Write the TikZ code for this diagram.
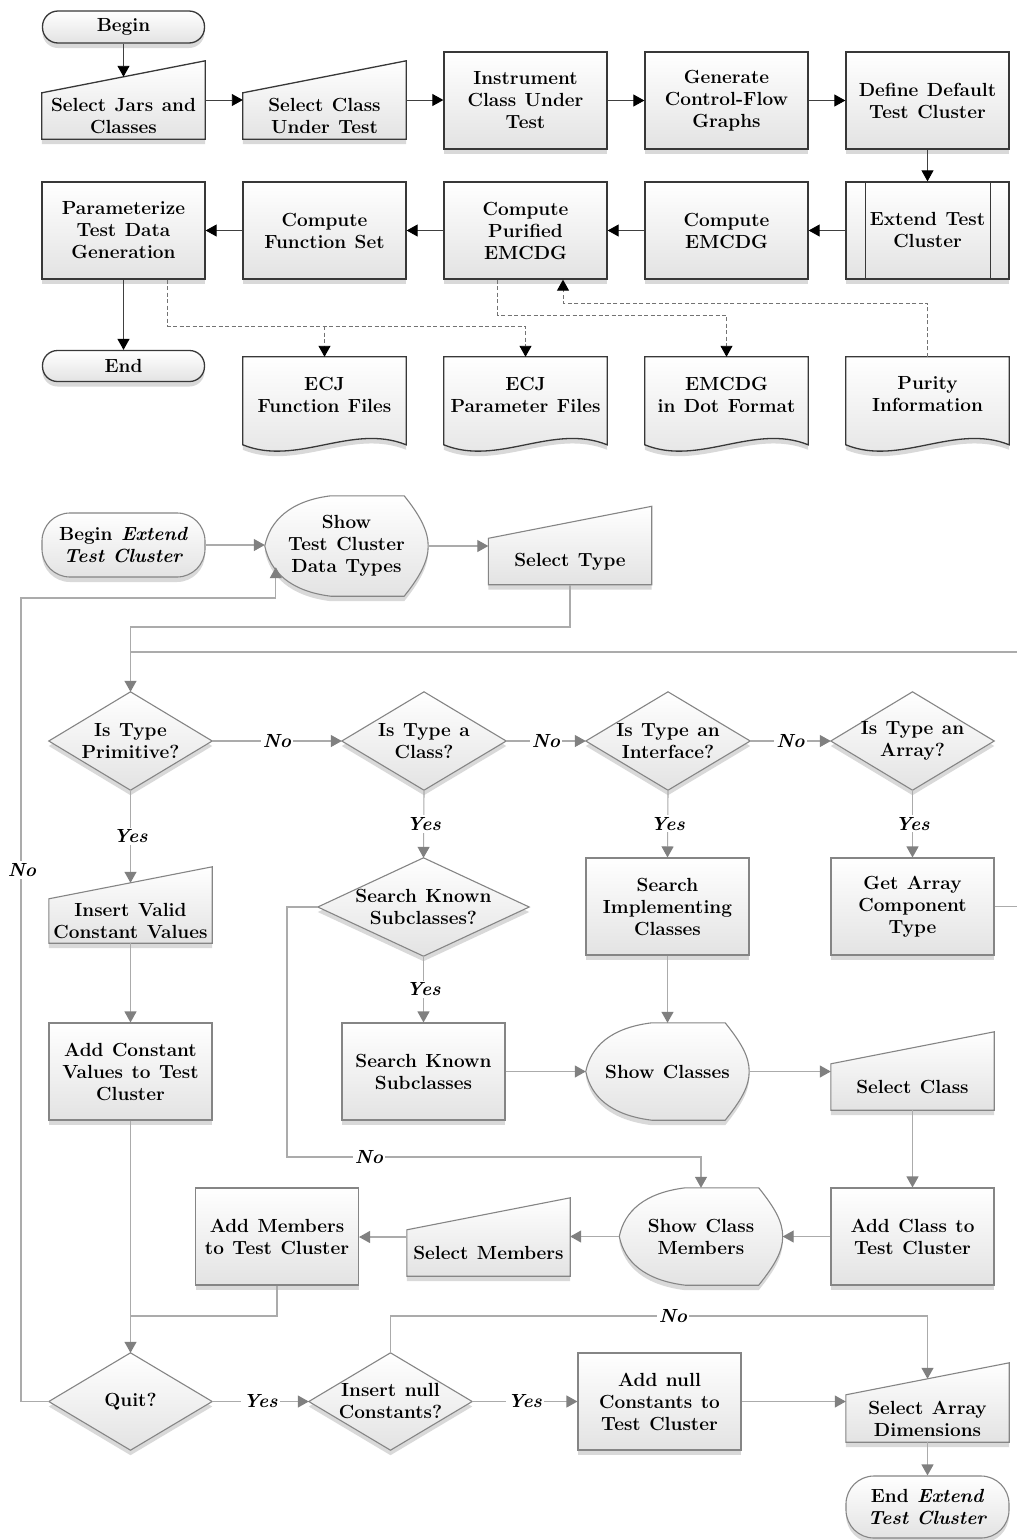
\documentclass[tikz,border=0pt]{standalone}
\usetikzlibrary{arrows.meta,calc,shadows,backgrounds}

% outlines of the special flowchart symbols, drawn round an invisible node
\newcommand\miShape[2]{% manual input: slanted top edge
  \path[#2] (#1.south west) -- (#1.south east) -- (#1.north east)
    -- ($(#1.north west)+(0,32)$) -- cycle;}
\newcommand\diaShape[2]{% decision
  \path[#2] (#1.north) -- (#1.east) -- (#1.south) -- (#1.west) -- cycle;}
\newcommand\dispShape[2]{% display
  \path[#2] ($(#1.north west)+(66,0)$) -- ($(#1.north east)+(-24,0)$)
    .. controls ($(#1.north east)+(-8,20)$) and ($(#1.east)+(0,-15)$) .. (#1.east)
    .. controls ($(#1.east)+(0,15)$) and ($(#1.south east)+(-8,-20)$) .. ($(#1.south east)+(-24,0)$)
    -- ($(#1.south west)+(66,0)$)
    .. controls ($(#1.south west)+(25,-5)$) and ($(#1.west)+(5,25)$) .. (#1.west)
    .. controls ($(#1.west)+(5,-25)$) and ($(#1.north west)+(25,5)$) .. ($(#1.north west)+(66,0)$)
    -- cycle;}
\newcommand\docShape[2]{% document with wavy bottom
  \path[#2] (#1.north west) -- (#1.north east) -- ($(#1.north east)+(0,88)$)
    .. controls ($(#1.north west)+(109,66)$) and ($(#1.north west)+(54,110)$) .. ($(#1.north west)+(0,88)$)
    -- cycle;}

\newcommand\boxfont{\fontsize{19}{22}\selectfont\bfseries\spaceskip=8.5pt plus 2pt\relax}

\tikzset{
  sh/.style={general shadow={fill=black!15, shadow yshift=-5pt}},
  grad/.style={top color=white, bottom color=black!11},
  tshape/.style={draw=black!78, line width=1.3pt, grad, sh},
  bshape/.style={draw=black!48, line width=1.1pt, grad, sh},
  tbox/.style={tshape, rectangle, minimum width=163pt, minimum height=97pt},
  bbox/.style={bshape, rectangle, minimum width=163pt, minimum height=97pt},
  ghost/.style={rectangle, draw=none, minimum width=163pt},
  tline/.style={draw=black!75, line width=0.9pt},
  tarrow/.style={tline, -{Triangle[length=11pt,width=12pt,color=black]}},
  tdash/.style={draw=black!55, line width=0.9pt, dash pattern=on 4pt off 2.5pt,
    -{Triangle[length=11pt,width=12pt,color=black]}},
  bline/.style={draw=black!33, line width=1.1pt},
  barrow/.style={bline, -{Triangle[length=11pt,width=12pt,color=black!50]}},
  lbl/.style={font=\boxfont\itshape, fill=white, inner sep=2pt},
}

\begin{document}
\begin{tikzpicture}[x=1pt,y=-1pt,
  every node/.style={font=\boxfont, align=center, inner sep=0pt}]
\useasboundingbox (0,0) rectangle (1017,1540);
\clip (0,0) rectangle (1017,1540);

% ---------------- main process ----------------
\node[tshape, rounded corners=15.5pt, minimum width=162pt, minimum height=32pt] (begin) at (123.5,27) {Begin};
\node[ghost, minimum height=78pt, label={[yshift=-16pt]center:Select Jars and\\Classes}] (sj) at (123.5,100) {};
\node[ghost, minimum height=78pt, label={[yshift=-16pt]center:Select Class\\Under Test}] (sc) at (324.5,100) {};
\node[tbox] (ins) at (525.5,100.5) {Instrument\\Class Under\\Test};
\node[tbox] (gen) at (726.5,100.5) {Generate\\Control-Flow\\Graphs};
\node[tbox] (def) at (927.5,100.5) {Define Default\\Test Cluster};
\node[tbox] (ext) at (927.5,230.5) {Extend Test\\Cluster};
\node[tbox] (cemc) at (726.5,230.5) {Compute\\EMCDG};
\node[tbox] (cpur) at (525.5,230.5) {Compute\\Purified\\EMCDG};
\node[tbox] (cfs) at (324.5,230.5) {Compute\\Function Set};
\node[tbox] (par) at (123.5,230.5) {Parameterize\\Test Data\\Generation};
\node[tshape, rounded corners=15pt, minimum width=162pt, minimum height=31pt] (end) at (123.5,366) {End};
\node[ghost, minimum height=75pt] (ecjf) at (324.5,394.5) {ECJ\\Function Files};
\node[ghost, minimum height=75pt] (ecjp) at (525.5,394.5) {ECJ\\Parameter Files};
\node[ghost, minimum height=75pt] (emdot) at (726.5,394.5) {EMCDG\\in Dot Format};
\node[ghost, minimum height=75pt] (pur) at (927.5,394.5) {Purity\\Information};

% predefined-process bars
\draw[draw=black!78, line width=1.3pt]
  ($(ext.north west)+(20,0)$) -- ($(ext.south west)+(20,0)$)
  ($(ext.north east)+(-19,0)$) -- ($(ext.south east)+(-19,0)$);

% ---------------- Extend Test Cluster ----------------
\node[bshape, rounded corners=28pt, minimum width=163pt, minimum height=64pt] (bext) at (123.5,545) {Begin \textit{Extend}\\\textit{Test Cluster}};
\node[ghost, minimum height=100pt] (show) at (346.5,546) {Show\\Test Cluster\\Data Types};
\node[ghost, minimum height=78pt, label={[yshift=-16pt]center:Select Type}] (stype) at (570,545.5) {};

\node[ghost, minimum height=98pt] (prim) at (130.5,741) {Is Type\\Primitive?};
\node[ghost, minimum width=164pt, minimum height=98pt] (cls) at (424,741) {Is Type a\\Class?};
\node[ghost, minimum width=164pt, minimum height=98pt] (intf) at (668,741) {Is Type an\\Interface?};
\node[ghost, minimum height=98pt] (arr) at (912.5,741) {Is Type an\\Array?};

\node[ghost, minimum height=76pt, label={[yshift=-16pt]center:Insert Valid\\Constant Values}] (ivc) at (130.5,905) {};
\node[bbox] (acv) at (130.5,1071.5) {Add Constant\\Values to Test\\Cluster};
\node[ghost, minimum width=211pt, minimum height=98pt] (sksq) at (423.5,907) {Search Known\\Subclasses?};
\node[bbox] (sks) at (423.5,1071.5) {Search Known\\Subclasses};
\node[bbox] (sic) at (667.5,906.5) {Search\\Implementing\\Classes};
\node[bbox] (gac) at (912.5,906.5) {Get Array\\Component\\Type};
\node[ghost, minimum height=97pt] (shcl) at (667.5,1071.5) {Show Classes};
\node[ghost, minimum height=78pt, label={[yshift=-16pt]center:Select Class}] (scl) at (912.5,1071) {};
\node[bbox] (acl) at (912.5,1236.5) {Add Class to\\Test Cluster};
\node[ghost, minimum height=97pt] (scm) at (701,1236.5) {Show Class\\Members};
\node[ghost, minimum height=78pt, label={[yshift=-16pt]center:Select Members}] (sm) at (488.5,1237) {};
\node[bbox] (am) at (277,1236.5) {Add Members\\to Test Cluster};
\node[ghost, minimum height=97pt] (quit) at (130.5,1401.5) {Quit?};
\node[ghost, minimum height=97pt] (inull) at (390.5,1401.5) {Insert null\\Constants?};
\node[bbox] (anull) at (659.5,1401.5) {Add null\\Constants to\\Test Cluster};
\node[ghost, minimum height=79pt, label={[yshift=-16pt]center:Select Array\\Dimensions}] (sad) at (927.5,1402.5) {};
\node[bshape, rounded corners=28pt, minimum width=163pt, minimum height=62pt] (eext) at (927.5,1507) {End \textit{Extend}\\\textit{Test Cluster}};

% ---------------- symbol outlines ----------------
\begin{scope}[on background layer]
  \fill[white] (0,0) rectangle (1017,1540);
  \miShape{sj}{tshape}
  \miShape{sc}{tshape}
  \docShape{ecjf}{tshape}
  \docShape{ecjp}{tshape}
  \docShape{emdot}{tshape}
  \docShape{pur}{tshape}
  \dispShape{show}{bshape}
  \miShape{stype}{bshape}
  \diaShape{prim}{bshape}
  \diaShape{cls}{bshape}
  \diaShape{intf}{bshape}
  \diaShape{arr}{bshape}
  \miShape{ivc}{bshape}
  \diaShape{sksq}{bshape}
  \dispShape{shcl}{bshape}
  \miShape{scl}{bshape}
  \dispShape{scm}{bshape}
  \miShape{sm}{bshape}
  \diaShape{quit}{bshape}
  \diaShape{inull}{bshape}
  \miShape{sad}{bshape}
\end{scope}

% ---------------- main process connectors ----------------
\draw[tarrow] (begin.south) -- ($(sj.north)+(0,16)$);
\draw[tarrow] (sj.east) -- (sc.west);
\draw[tarrow] (sc.east) -- (sc.east -| ins.west);
\draw[tarrow] (ins.east) -- (gen.west);
\draw[tarrow] (gen.east) -- (def.west);
\draw[tarrow] (def.south) -- (ext.north);
\draw[tarrow] (ext.west) -- (cemc.east);
\draw[tarrow] (cemc.west) -- (cpur.east);
\draw[tarrow] (cpur.west) -- (cfs.east);
\draw[tarrow] (cfs.west) -- (par.east);
\draw[tarrow] (par.south) -- (end.north);

\coordinate (busA) at (0,326);
\coordinate (busB) at (0,315);
\coordinate (busC) at (0,303);
\coordinate (pcx) at ($(cpur.south)+(37.5,0)$);
\draw[tdash] ($(par.south)+(44,0)$) |- (busA -| ecjp.north) -- (ecjp.north);
\draw[tdash] (ecjf.north |- busA) -- (ecjf.north);
\draw[tdash] ($(cpur.south)+(-28,0)$) |- (busB -| emdot.north) -- (emdot.north);
\draw[tdash] (pur.north) |- (busC -| pcx) -- (pcx);

% ---------------- Extend Test Cluster connectors ----------------
\coordinate (rowA) at (0,627);
\coordinate (rowB) at (0,652);
\coordinate (noTurn) at (287,1157);
\coordinate (joinQ) at (130.5,1316);
\coordinate (loopL) at (21,598);

\draw[barrow] (bext.east) -- (bext.east -| show.west);
\draw[barrow] (show.east) -- (show.east -| stype.west);
\draw[barrow] (stype.south) -- (stype.south |- rowA) -| (prim.north);
\draw[bline] (gac.east) -- ++(40,0) |- (prim.north |- rowB);

\draw[barrow] (prim.east) -- node[lbl] (no1) {No} (cls.west);
\draw[barrow] (cls.east) -- node[lbl] (no2) {No} (intf.west);
\draw[barrow] (intf.east) -- node[lbl] (no3) {No} (arr.west);

\draw[barrow] (prim.south) -- node[lbl] (yes1) {Yes} ($(ivc.north)+(0,16)$);
\draw[barrow] (cls.south) -- node[lbl] (yes2) {Yes} (sksq.north);
\draw[barrow] (intf.south) -- node[lbl] (yes3) {Yes} (sic.north);
\draw[barrow] (arr.south) -- node[lbl] (yes4) {Yes} (gac.north);

\draw[barrow] (ivc.south) -- (acv.north);
\draw[barrow] (sksq.south) -- node[lbl] (yes5) {Yes} (sks.north);
\draw[barrow] (sksq.west) -| (noTurn) -| (scm.north);
\draw[barrow] (sic.south) -- (shcl.north);
\draw[barrow] (sks.east) -- (shcl.west);
\draw[barrow] (shcl.east) -- (shcl.east -| scl.west);
\draw[barrow] (scl.south) -- (acl.north);
\draw[barrow] (acl.west) -- (scm.east);
\draw[barrow] (scm.west) -- (scm.west -| sm.east);
\draw[barrow] (sm.west) -- (sm.west -| am.east);
\draw[bline] (am.south) |- (joinQ);
\draw[barrow] (acv.south) -- (quit.north);

\draw[barrow] (quit.east) -- node[lbl] (yes6) {Yes} (inull.west);
\draw[barrow] (inull.east) -- node[lbl] (yes7) {Yes} (anull.west);
\draw[barrow] (anull.east) -- (anull.east -| sad.west);
\draw[barrow] (inull.north) |- (joinQ -| sad.north) -- ($(sad.north)+(0,16)$);
\draw[barrow] (sad.south) -- (eext.north);
\draw[barrow] (quit.west) -| (loopL) -| ($(show.south west)+(11,-29)$);

\node[lbl] (no4) at (369,1157) {No};
\node[lbl] (no5) at (673,1316) {No};
\node[lbl] (no6) at (22,870) {No};
\end{tikzpicture}
\end{document}
